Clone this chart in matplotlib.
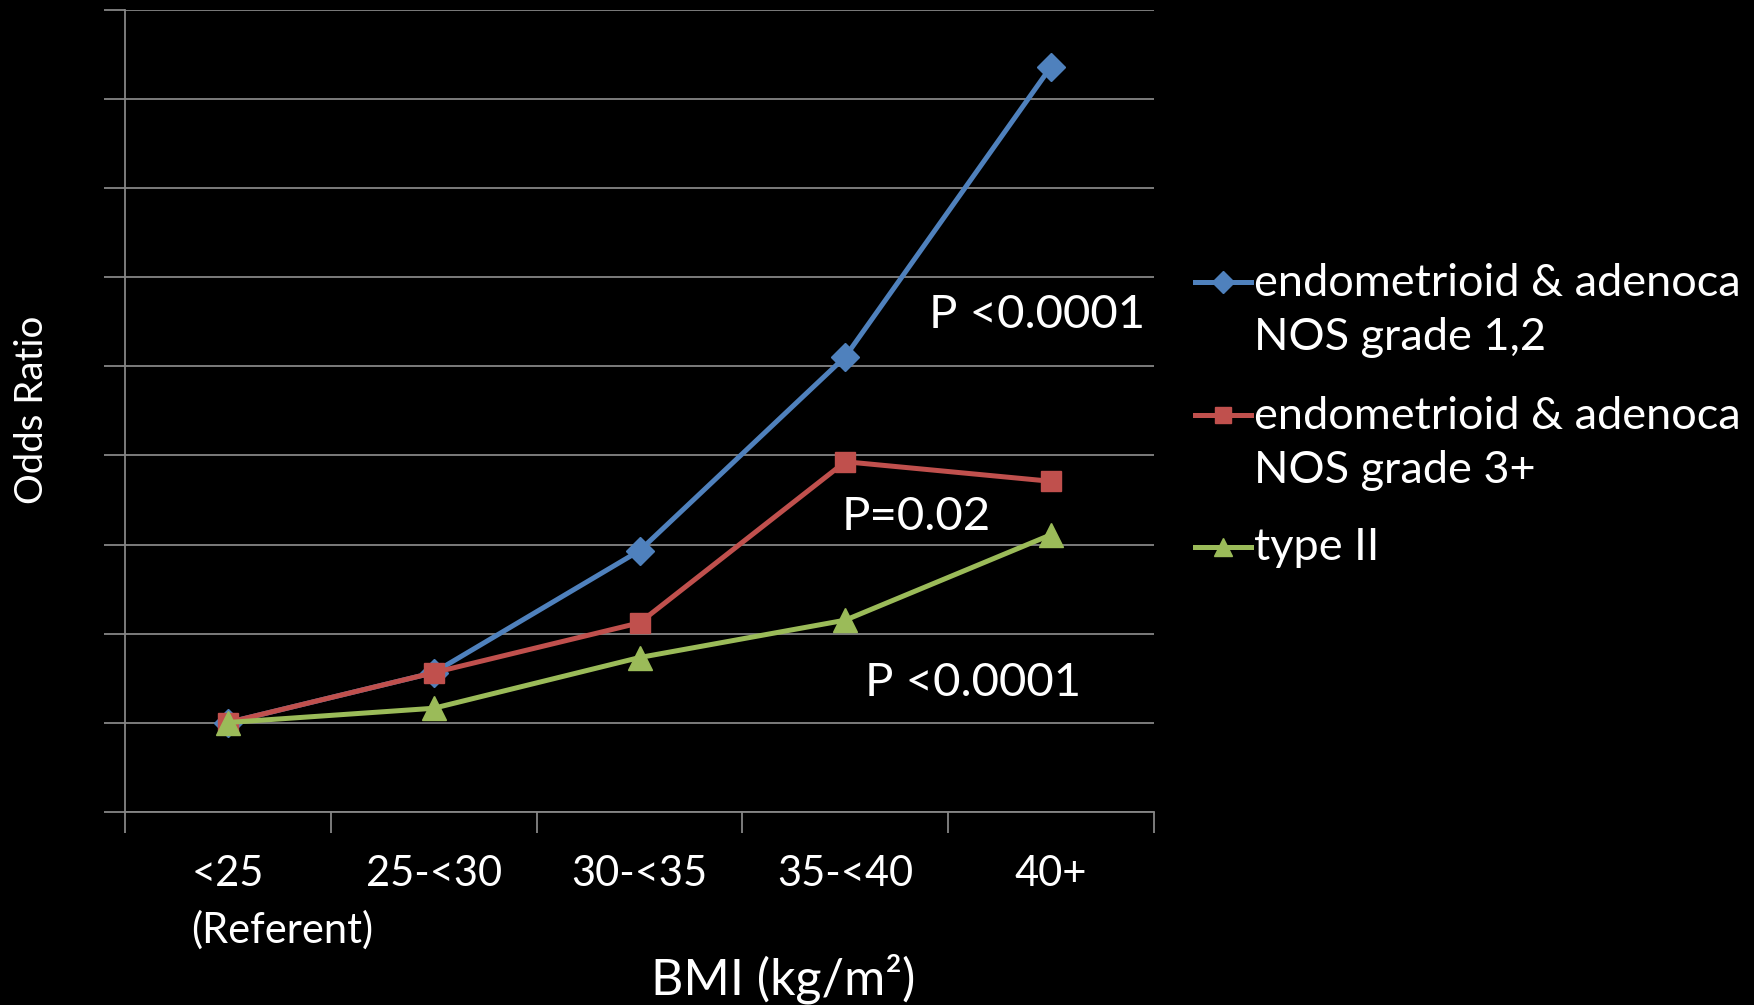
import matplotlib
matplotlib.use("Agg")
import matplotlib.pyplot as plt
from matplotlib.lines import Line2D
from matplotlib.transforms import blended_transform_factory

# data (odds ratios, referent = 1)
categories = ["<25", "25-<30", "30-<35", "35-<40", "40+"]
or_grade12 = [1.0, 1.56, 2.93, 5.11, 8.37]
or_grade3 = [1.0, 1.56, 2.12, 3.93, 3.71]
or_type2 = [1.0, 1.16, 1.73, 2.15, 3.11]
series_labels = ["endometrioid & adenoca\nNOS grade 1,2",
                 "endometrioid & adenoca\nNOS grade 3+",
                 "type II"]
p_labels = ["P <0.0001", "P=0.02", "P <0.0001"]

blue = "#4F81BD"
red = "#C0504D"
green = "#9BBB59"
grid_c = "#868686"

plt.rcParams['font.family'] = ['Lato', 'DejaVu Sans']

W, H = 1754, 1005
fig = plt.figure(figsize=(W / 100, H / 100), dpi=100, facecolor="black")
ax = fig.add_axes([125 / W, 1 - 811.5 / H, (1154 - 125) / W, (811.5 - 10.5) / H])
ax.set_facecolor("black")

x = range(len(categories))
ax.plot(x, or_grade12, color=blue, lw=3.6, marker="D", ms=14, zorder=3)
ax.plot(x, or_grade3, color=red, lw=3.6, marker="s", ms=15, zorder=4)
ax.plot(x, or_type2, color=green, lw=3.6, marker="^", ms=17, zorder=5)

ax.set_xlim(-0.5, 4.5)
ax.set_ylim(0, 9)
ax.set_yticks(range(10))
ax.set_yticklabels([])
ax.yaxis.grid(True, color=grid_c, lw=1.3)
ax.set_axisbelow(True)

# boundary ticks between categories, labels centred on categories
ax.set_xticks([i - 0.5 for i in range(6)])
ax.set_xticklabels([])
ax.set_xticks(list(x), minor=True)
ax.set_xticklabels(categories, minor=True, color="white", fontsize=30)
ax.tick_params(axis="x", which="major", length=15, width=1.3, color=grid_c, direction="out")
ax.tick_params(axis="x", which="minor", length=0, pad=31)
ax.tick_params(axis="y", length=15, width=1.3, color=grid_c, direction="out")

for s in ["top", "right"]:
    ax.spines[s].set_visible(False)
for s in ["left", "bottom"]:
    ax.spines[s].set_color(grid_c)
    ax.spines[s].set_linewidth(1.3)

# "(Referent)" under the first category, left-aligned with "<25"
ax.text(-0.18, 1 - 930 / H, "(Referent)",
        transform=blended_transform_factory(ax.transData, fig.transFigure),
        color="white", fontsize=30, ha="left", va="center")

# p-value annotations
p_pos = [(1037, 315), (916, 517), (973, 683)]
for lab, (px, py) in zip(p_labels, p_pos):
    fig.text(px / W, 1 - py / H, lab, color="white", fontsize=34, ha="center", va="center")

fig.text(783 / W, 1 - 979 / H, "BMI (kg/m²)", color="white", fontsize=36, ha="center", va="center")
fig.text(32 / W, 1 - 410 / H, "Odds Ratio", color="white", fontsize=27.7, ha="center", va="center",
         rotation=90)

# legend drawn by hand so the key sits on the first text line
leg_y = [282, 415, 547]
leg_style = [(blue, "D", 11), (red, "s", 12), (green, "^", 13)]
for lab, y, (c, m, ms) in zip(series_labels, leg_y, leg_style):
    fy = 1 - y / H
    fig.add_artist(Line2D([1195 / W, 1251 / W], [fy, fy], color=c, lw=3.6,
                          transform=fig.transFigure))
    fig.add_artist(Line2D([1223 / W], [fy], color=c, marker=m, ms=ms,
                          transform=fig.transFigure))
    nlines = lab.count("\n") + 1
    cy = y + (nlines - 1) * 57 / 2
    fig.text(1254 / W, 1 - cy / H, lab, color="white", fontsize=32.5, ha="left", va="center",
             linespacing=1.4)

fig.savefig("out.png", dpi=100, facecolor="black")
